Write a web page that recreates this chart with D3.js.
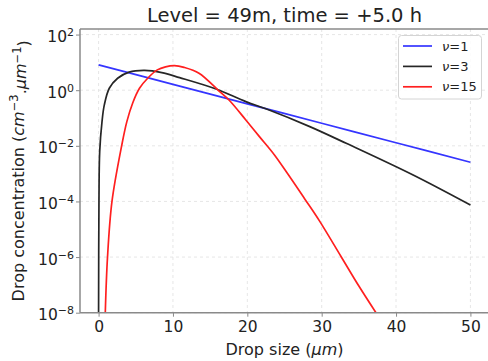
<!DOCTYPE html>
<html><head><meta charset="utf-8">
<script src="https://cdn.jsdelivr.net/npm/d3@7"></script>
<style>
body{margin:0;background:#fff;}
svg{font-family:"DejaVu Sans",sans-serif;}
</style></head><body>
<svg id="c" width="488" height="361"></svg>
<script>
// ---- data ----
const title = "Level = 49m, time = +5.0 h";
const xTicks = [0, 10, 20, 30, 40, 50];
const yTickExps = [-8, -6, -4, -2, 0, 2];
const seriesNames = ["1", "3", "15"];
const seriesColors = ["#3535ff", "#262626", "#ff1f1f"];
// drop size (µm)
const nu1Size  = [0, 10, 20, 30, 40, 50];
const nu1Conc  = [8.13, 1.62, 0.324, 0.0646, 0.0129, 0.00257];
const nu3Size  = [0, 0.05, 0.15, 0.46, 0.77, 1.44, 2.56, 4.1, 6.2, 8.5, 10.9, 15.8, 19.8, 22.5, 28.4, 33.3, 42.3, 50];
const nu3Conc  = [1e-8, 1e-4, 6.3e-3, 0.0741, 0.295, 1.175, 2.69, 4.47, 5.13, 4.27, 2.82, 1.10, 0.389, 0.214, 0.049, 0.0123, 8.9e-4, 7.4e-5];
const nu15Size = [0.9, 1.2, 1.8, 3.1, 3.8, 4.6, 5.5, 6.6, 7.9, 9.0, 10.2, 11.5, 13.5, 16.2, 17.6, 19.8, 21.6, 23.6, 25.5, 27.7, 29.7, 32.6, 35.0, 37.3];
const nu15Conc = [1e-8, 1e-6, 1e-4, 1e-2, 0.0741, 0.355, 1.175, 2.69, 5.37, 6.92, 7.67, 6.61, 4.07, 0.933, 0.427, 0.0851, 0.0219, 4.9e-3, 9.3e-4, 1.26e-4, 2.0e-5, 1.05e-6, 9.1e-8, 1e-8];

const svg = d3.select("#c");
const L = 80, R = 489, T = 29, B = 312.7;
const x = d3.scaleLinear().domain([-2.5, 52.5]).range([L, R]);
const y = d3.scaleLog().domain([1e-8, Math.pow(10, 2.2)]).range([B, T]);

svg.append("defs").append("clipPath").attr("id","clip")
  .append("rect").attr("x",L).attr("y",T).attr("width",R-L).attr("height",B-T);

// grid
const grid = svg.append("g");
xTicks.forEach(t => grid.append("line").attr("x1",x(t)).attr("x2",x(t)).attr("y1",T).attr("y2",B)
  .attr("stroke","#e3e3e3").attr("stroke-width",0.9).attr("stroke-dasharray","3,3"));
yTickExps.forEach(e => grid.append("line").attr("x1",L).attr("x2",R).attr("y1",y(Math.pow(10,e))).attr("y2",y(Math.pow(10,e)))
  .attr("stroke","#e3e3e3").attr("stroke-width",0.9).attr("stroke-dasharray","3,3"));

// curves
const series = [[nu1Size,nu1Conc],[nu3Size,nu3Conc],[nu15Size,nu15Conc]];
const line = d3.line().x(d=>x(d[0])).y(d=>y(d[1])).curve(d3.curveCatmullRom.alpha(0.5));
const curves = svg.append("g").attr("clip-path","url(#clip)");
series.forEach((s,i) => {
  const pts = s[0].map((v,j)=>[v, s[1][j]]);
  curves.append("path").attr("d", line(pts)).attr("fill","none")
    .attr("stroke", seriesColors[i]).attr("stroke-width",1.7);
});

// spines
const spineCol = "#8a8a8a";
svg.append("line").attr("x1",L).attr("x2",L).attr("y1",T).attr("y2",B).attr("stroke",spineCol).attr("stroke-width",1.5);
svg.append("line").attr("x1",L).attr("x2",R).attr("y1",B).attr("y2",B).attr("stroke",spineCol).attr("stroke-width",1.5);
svg.append("line").attr("x1",L).attr("x2",R).attr("y1",T).attr("y2",T).attr("stroke",spineCol).attr("stroke-width",1.5);

// x axis
const xAxis = d3.axisBottom(x).tickValues(xTicks).tickSize(4).tickPadding(4).tickFormat(d3.format("d"));
const gx = svg.append("g").attr("transform",`translate(0,${B})`).call(xAxis);
gx.select(".domain").remove();
gx.selectAll(".tick line").attr("stroke",spineCol).attr("stroke-width",1);
gx.selectAll(".tick text").attr("font-size","15.5px").attr("fill","#222").attr("font-family","DejaVu Sans");

// y axis
const yAxis = d3.axisLeft(y).tickValues(yTickExps.map(e=>Math.pow(10,e))).tickSize(4).tickPadding(5).tickFormat("");
const gy = svg.append("g").attr("transform",`translate(${L},0)`).call(yAxis);
gy.select(".domain").remove();
gy.selectAll(".tick line").attr("stroke",spineCol).attr("stroke-width",1);
gy.selectAll(".tick").each(function(d){
  const e = Math.round(Math.log10(d));
  const t = d3.select(this).append("text").attr("x",-6).attr("y",0).attr("dy","0.45em")
    .attr("text-anchor","end").attr("fill","#222").attr("font-size","15.5px").attr("font-family","DejaVu Sans");
  t.append("tspan").text("10");
  t.append("tspan").attr("dy","-0.55em").attr("font-size","11px").text(e<0 ? "\u2212"+(-e) : String(e));
});

// title
svg.append("text").attr("x",(L+R)/2).attr("y",21.5).attr("text-anchor","middle")
  .attr("font-size","19.5px").attr("fill","#222").text(title);

// x label
const xl = svg.append("text").attr("x",(L+R)/2).attr("y",354.5).attr("text-anchor","middle")
  .attr("font-size","16px").attr("fill","#222");
xl.append("tspan").text("Drop size (");
xl.append("tspan").attr("font-style","italic").text("\u03bcm");
xl.append("tspan").text(")");

// y label
const yl = svg.append("text").attr("transform",`translate(24,${(T+B)/2}) rotate(-90)`).attr("text-anchor","middle")
  .attr("font-size","16px").attr("fill","#222");
yl.append("tspan").text("Drop concentration (");
yl.append("tspan").attr("font-style","italic").text("cm");
yl.append("tspan").attr("dy","-0.5em").attr("font-size","11.5px").text("\u22123");
yl.append("tspan").attr("dy","0.5em").text(".");
yl.append("tspan").attr("font-style","italic").text("\u03bcm");
yl.append("tspan").attr("dy","-0.5em").attr("font-size","11.5px").text("\u22121");
yl.append("tspan").attr("dy","0.5em").text(")");

// legend
const lg = svg.append("g");
lg.append("rect").attr("x",398.5).attr("y",35.5).attr("width",83).attr("height",63.5).attr("rx",3)
  .attr("fill","#fff").attr("fill-opacity",0.85).attr("stroke","#d4d4d4").attr("stroke-width",1);
seriesNames.forEach((n,i) => {
  const yy = 46 + i*20.4;
  lg.append("line").attr("x1",403).attr("x2",432).attr("y1",yy).attr("y2",yy)
    .attr("stroke",seriesColors[i]).attr("stroke-width",1.7);
  const t = lg.append("text").attr("x",442).attr("y",yy).attr("dy","0.36em").attr("font-size","13px").attr("fill","#222");
  t.append("tspan").attr("font-style","italic").text("\u03bd");
  t.append("tspan").text("="+n);
});
</script>
</body></html>
